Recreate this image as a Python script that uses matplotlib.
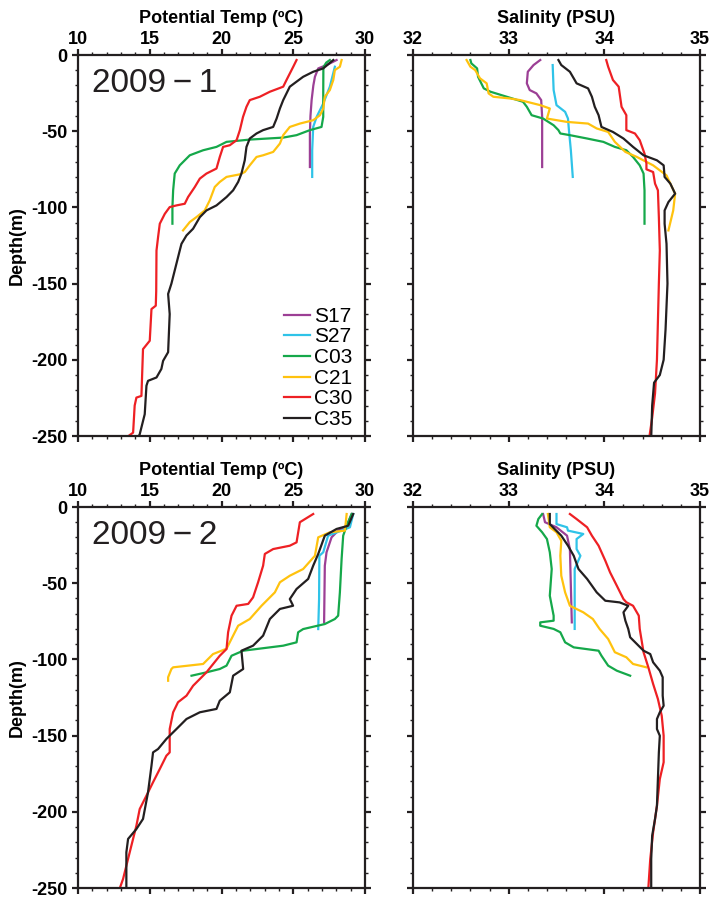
import numpy as np
import matplotlib.pyplot as plt
from matplotlib.ticker import MultipleLocator

plt.rcParams['font.family'] = ['Liberation Sans', 'DejaVu Sans']
plt.rcParams['axes.unicode_minus'] = False

stations = ["S17", "S27", "C03", "C21", "C30", "C35"]
colors = ["#9c3f95", "#2fc3e8", "#15a84a", "#ffc20e", "#ee2024", "#231f20"]

# (value, depth) pairs
# 2009-1 potential temperature
temp1_S17 = [(28.02, -3.3), (27.32, -6.6), (26.74, -8.8), (26.51, -14.3), (26.4, -20),
             (26.28, -29.6), (26.2, -40), (26.16, -51.5), (26.16, -73.5)]
temp1_S27 = [(27.9, -7.7), (27.55, -20.8), (27.09, -31.8), (26.63, -40.6), (26.39, -47.2),
             (26.32, -62.5), (26.32, -80)]
temp1_C03 = [(27.55, -3.3), (27.3, -5), (27.1, -8), (27.09, -25), (27.09, -40.6), (26.97, -47.2),
             (26.16, -49.3), (25.23, -52.6), (24.3, -54.2), (21.97, -55.5), (20.35, -57),
             (19.65, -60.3), (18.72, -62.5), (17.79, -65.8), (17.09, -72.4), (16.74, -77.8),
             (16.63, -88.8), (16.58, -99.8), (16.58, -110.7)]
temp1_C21 = [(28.37, -3.3), (28.25, -7.7), (27.9, -9.9), (27.79, -16.4), (27.55, -23),
             (27.2, -27.4), (27.09, -35.1), (26.86, -39.5), (26.39, -42.8), (25.46, -45),
             (24.76, -47.2), (24.3, -52.6), (24.07, -58.1), (23.6, -63.6), (22.9, -65.8),
             (22.44, -66.9), (21.97, -72.4), (21.62, -76.8), (21.28, -78.3), (20.35, -80),
             (19.88, -83.3), (19.53, -86.6), (19.18, -95.4), (18.83, -102), (18.25, -106.4),
             (17.79, -109.6), (17.32, -115.1)]
temp1_C30 = [(25.23, -3.3), (25.0, -7.7), (24.53, -16.4), (24.3, -20.8), (23.37, -24.1),
             (22.67, -27.4), (21.97, -29.6), (21.74, -34), (21.5, -40.6), (21.28, -49.3),
             (21.05, -55.9), (20.58, -59.2), (20.11, -60.3), (19.88, -66.9), (19.65, -74.5),
             (18.95, -77.8), (18.49, -81.1), (18.14, -86.6), (17.67, -93.2), (17.44, -97.6),
             (16.86, -98.7), (16.39, -99.8), (16.05, -104.2), (15.7, -110.7), (15.58, -119.5),
             (15.47, -128.3), (15.45, -155), (15.42, -164.5), (15.12, -166.7), (15.0, -187.5),
             (14.53, -193), (14.42, -223.7), (14.07, -224.8), (13.95, -230), (13.84, -247.8),
             (13.37, -251)]
temp1_C35 = [(27.79, -3.3), (27.09, -8.8), (26.39, -11.0), (25.69, -14.3), (25.23, -17.5),
             (24.76, -20.8), (24.3, -29.6), (24.07, -35.1), (23.84, -41.7), (23.6, -47.2),
             (22.9, -49.3), (22.44, -51.5), (21.97, -54.8), (21.74, -60.3), (21.62, -69.1),
             (21.39, -77.8), (21.16, -83.3), (20.81, -88.8), (20.35, -93.2), (19.65, -98.7),
             (18.95, -102), (18.49, -106.4), (18.02, -114), (17.56, -118.4), (17.21, -123.9),
             (17.09, -128.3), (16.74, -141.4), (16.51, -150), (16.28, -156.8), (16.39, -170),
             (16.28, -195), (15.93, -200.7), (15.81, -206), (15.47, -211.6), (14.88, -213.8),
             (14.77, -217), (14.65, -235.7), (14.3, -248.9), (14.18, -251)]

# 2009-1 salinity
sal1_S17 = [(33.33, -3.3), (33.26, -6.6), (33.2, -11), (33.19, -18.6), (33.22, -23),
            (33.29, -25.2), (33.34, -29.6), (33.35, -40.6), (33.35, -73.5)]
sal1_S27 = [(33.46, -6.6), (33.47, -23), (33.5, -32.9), (33.59, -37.3), (33.62, -41.7),
            (33.63, -49.3), (33.65, -62.5), (33.67, -80)]
sal1_C03 = [(32.6, -3.3), (32.61, -5.5), (32.67, -8.8), (32.68, -14.3), (32.74, -21.9),
            (32.81, -24.1), (32.98, -27.4), (33.15, -30.7), (33.19, -34), (33.24, -39.5),
            (33.36, -41.7), (33.47, -46.1), (33.52, -49.3), (33.54, -51.5), (33.64, -52.6),
            (33.82, -54.8), (33.99, -57), (34.11, -60.3), (34.23, -62.5), (34.3, -66.9),
            (34.37, -72.4), (34.41, -77.8), (34.42, -88.8), (34.42, -110.7)]
sal1_C21 = [(32.56, -3.3), (32.6, -7.7), (32.65, -9.9), (32.7, -15.3), (32.77, -18.6),
            (32.79, -25.2), (32.84, -27.4), (33.01, -28.5), (33.12, -29.6), (33.33, -32.9),
            (33.43, -35.1), (33.4, -41.7), (33.61, -43.9), (33.83, -45), (33.92, -48.2),
            (34.04, -50.5), (34.11, -57), (34.22, -63.6), (34.34, -66.9), (34.51, -72.4),
            (34.65, -79), (34.69, -84.4), (34.74, -91), (34.72, -102), (34.67, -115.1)]
sal1_C30 = [(34.02, -3.3), (34.04, -7.7), (34.09, -16.4), (34.15, -20.8), (34.16, -25.2),
            (34.18, -34), (34.23, -39.5), (34.23, -49.3), (34.32, -51.5), (34.37, -55.9),
            (34.42, -64.7), (34.44, -71.2), (34.44, -75), (34.51, -76.8), (34.53, -84.4),
            (34.56, -88.8), (34.57, -106.4), (34.58, -128.3), (34.57, -150), (34.56, -175),
            (34.55, -200), (34.53, -222), (34.5, -238), (34.47, -251)]
sal1_C35 = [(33.52, -3.3), (33.55, -6.6), (33.64, -11), (33.69, -16.4), (33.71, -18.6),
            (33.83, -21.9), (33.87, -27.4), (33.9, -34), (33.94, -39.5), (33.97, -47.2),
            (34.09, -50.5), (34.2, -54.8), (34.3, -60.3), (34.41, -65.8), (34.55, -69.1),
            (34.62, -72.4), (34.63, -80), (34.69, -84.4), (34.74, -91), (34.67, -96.5),
            (34.63, -102), (34.63, -110.7), (34.65, -123.9), (34.66, -150), (34.64, -180),
            (34.62, -200), (34.58, -210), (34.52, -215), (34.5, -230), (34.49, -251)]

# 2009-2 potential temperature
temp2_S17 = [(29.07, -4.6), (28.72, -12.3), (28.13, -15.5), (27.67, -19.9), (27.32, -29.7),
             (27.2, -38.5), (27.15, -75.7)]
temp2_S27 = [(29.18, -4.6), (28.95, -13.3), (28.5, -15), (27.43, -18.8), (27.09, -29.7),
             (26.82, -32), (26.8, -60.4), (26.74, -80.1)]
temp2_C03 = [(29.07, -4.6), (28.72, -12.3), (28.48, -18.8), (28.37, -34.1), (28.25, -56),
             (28.13, -71.3), (27.9, -73.5), (27.2, -76.8), (25.69, -80.1), (25.34, -82.2),
             (25.23, -88.8), (24.3, -91), (21.51, -94.3), (20.7, -97.6), (20.35, -104.1),
             (19.88, -106.3), (18.95, -108.5), (17.91, -110.7)]
temp2_C21 = [(28.72, -4.6), (28.6, -15.5), (27.55, -16.6), (26.74, -19.9), (26.51, -32),
             (25.69, -40.7), (24.76, -45.1), (24.07, -49.4), (23.72, -56), (22.79, -64.8),
             (21.97, -73.5), (21.16, -77.9), (20.81, -84.4), (20.35, -93), (19.41, -96.5),
             (18.72, -103), (16.63, -105.2), (16.51, -106.3), (16.28, -111.7), (16.28, -114)]
temp2_C30 = [(26.39, -4.6), (25.46, -10), (25.23, -23.2), (24.76, -25.4), (23.6, -27.6),
             (23.02, -30.8), (22.9, -38.5), (22.55, -49.4), (22.2, -59.3), (21.86, -63.6),
             (21.05, -64.8), (20.7, -71.3), (20.46, -82.2), (20.35, -93.2), (19.88, -97.6),
             (18.95, -108.5), (18.02, -117.3), (17.56, -123.8), (16.97, -128.1), (16.63, -134.7),
             (16.39, -145.7), (16.39, -161), (16.16, -163.2), (15.7, -171.9), (15.23, -180.6),
             (14.77, -189.4), (14.3, -198.2), (14.07, -209.1), (13.72, -222.2), (13.37, -235.4),
             (13.14, -244.1), (12.91, -250.2)]
temp2_C35 = [(29.18, -4.6), (28.83, -12.3), (28.02, -14.4), (27.2, -18.8), (26.74, -30.8),
             (26.39, -38.5), (26.04, -47.2), (25.23, -53.8), (24.76, -60.4), (24.99, -64.8),
             (24.07, -66.9), (23.37, -73.5), (22.9, -84.4), (22.2, -91), (21.39, -94.3),
             (21.51, -106.3), (20.81, -110.7), (20.58, -121.6), (19.88, -127.1), (19.65, -132.5),
             (18.49, -134.7), (17.56, -139.1), (16.86, -145.7), (16.16, -152.2), (15.58, -158.8),
             (15.23, -161), (15.12, -169.8), (14.88, -187.2), (14.53, -204.7), (14.07, -211.3),
             (13.49, -217.8), (13.37, -226.6), (13.37, -250)]

# 2009-2 salinity
sal2_S17 = [(33.36, -4.6), (33.38, -10), (33.5, -13.3), (33.61, -18.8), (33.64, -27.6),
            (33.66, -75.7)]
sal2_S27 = [(33.5, -4.6), (33.5, -11.2), (33.61, -13.3), (33.62, -15.5), (33.78, -17.7),
            (33.71, -21), (33.71, -27.6), (33.75, -32), (33.69, -40.7), (33.69, -80)]
sal2_C03 = [(33.35, -4.6), (33.31, -7.9), (33.29, -12.3), (33.35, -16.6), (33.4, -21),
            (33.43, -29.7), (33.45, -40.7), (33.43, -58.2), (33.45, -64.8), (33.47, -71.3),
            (33.47, -74.6), (33.33, -75.7), (33.33, -77.9), (33.47, -80), (33.54, -82.2),
            (33.59, -88.8), (33.68, -92.1), (33.94, -94.3), (33.97, -97.6), (34.04, -104.1),
            (34.13, -107.4), (34.27, -110.7)]
sal2_C21 = [(33.41, -4.6), (33.43, -13.3), (33.5, -16.6), (33.55, -22.1), (33.54, -32),
            (33.55, -45.1), (33.59, -56), (33.64, -64.8), (33.78, -69.1), (33.88, -73.5),
            (33.95, -80), (34.04, -86.6), (34.11, -95.3), (34.23, -98.6), (34.3, -103),
            (34.44, -105.2)]
sal2_C30 = [(33.64, -4.6), (33.71, -7.9), (33.82, -13.3), (33.87, -18.8), (33.94, -25.4),
            (34.01, -35.2), (34.06, -42.9), (34.13, -51.6), (34.2, -60.4), (34.23, -62.5),
            (34.3, -64.8), (34.36, -71.3), (34.37, -80), (34.41, -95.3), (34.46, -105.2),
            (34.51, -116.1), (34.56, -126), (34.6, -137), (34.62, -150.1), (34.62, -167.5),
            (34.58, -178.5), (34.55, -196), (34.51, -213.5), (34.48, -231), (34.46, -250)]
sal2_C35 = [(33.43, -4.6), (33.43, -11.2), (33.48, -14.4), (33.55, -18.8), (33.62, -25.4),
            (33.68, -32), (33.73, -40.7), (33.82, -47.2), (33.92, -56), (34.01, -61.5),
            (34.16, -62.6), (34.25, -64.8), (34.2, -69.1), (34.22, -74.6), (34.25, -80),
            (34.27, -85.5), (34.34, -89.9), (34.41, -94.3), (34.48, -96.5), (34.51, -101.9),
            (34.58, -107.4), (34.61, -111.7), (34.61, -123.8), (34.62, -130.4), (34.58, -134.7),
            (34.55, -139.1), (34.55, -145.7), (34.58, -150.1), (34.57, -161), (34.56, -178.5),
            (34.55, -196), (34.53, -204.7), (34.5, -215.7), (34.49, -231), (34.49, -250)]

panels = [
    ([temp1_S17, temp1_S27, temp1_C03, temp1_C21, temp1_C30, temp1_C35], "temp", "2009\u2009−\u20091"),
    ([sal1_S17, sal1_S27, sal1_C03, sal1_C21, sal1_C30, sal1_C35], "sal", None),
    ([temp2_S17, temp2_S27, temp2_C03, temp2_C21, temp2_C30, temp2_C35], "temp", "2009\u2009−\u20092"),
    ([sal2_S17, sal2_S27, sal2_C03, sal2_C21, sal2_C30, sal2_C35], "sal", None),
]

W, H = 712, 897
fig = plt.figure(figsize=(W / 100, H / 100), dpi=100)

lefts = [78, 413, 78, 413]
tops = [55, 55, 507, 507]
pw, ph = 287, 381
ink = "#231f20"

for i, (series, kind, year) in enumerate(panels):
    ax = fig.add_axes([lefts[i] / W, 1 - (tops[i] + ph) / H, pw / W, ph / H])
    for s, c, name in zip(series, colors, stations):
        arr = np.array(s)
        ax.plot(arr[:, 0], arr[:, 1], color=c, lw=1.6, label=name)

    if kind == "temp":
        ax.set_xlim(10, 30)
        ax.xaxis.set_major_locator(MultipleLocator(5))
        ax.xaxis.set_minor_locator(MultipleLocator(1))
        ax.set_xlabel("Potential Temp (ºC)", fontsize=13, fontweight="bold", labelpad=6)
        ax.set_ylabel("Depth(m)", fontsize=13, fontweight="bold", labelpad=4)
    else:
        ax.set_xlim(32, 35)
        ax.xaxis.set_major_locator(MultipleLocator(1))
        ax.xaxis.set_minor_locator(MultipleLocator(0.2))
        ax.set_xlabel("Salinity (PSU)", fontsize=13, fontweight="bold", labelpad=6)
    ax.set_ylim(-250, 0)
    ax.yaxis.set_major_locator(MultipleLocator(50))
    ax.yaxis.set_minor_locator(MultipleLocator(10))
    ax.xaxis.set_label_position("top")

    ax.tick_params(which="both", direction="out", top=True, bottom=True, left=True, right=True,
                   labeltop=True, labelbottom=False, labelleft=(kind == "temp"),
                   labelright=False, color=ink)
    ax.tick_params(which="major", length=4.5, width=1.6, labelsize=13, pad=3)
    ax.tick_params(axis="x", which="major", pad=0.5)
    ax.tick_params(which="minor", length=2.5, width=1.0)
    for lab in ax.get_xticklabels() + ax.get_yticklabels():
        lab.set_fontweight("bold")
    for sp in ax.spines.values():
        sp.set_linewidth(1.6)
        sp.set_color(ink)

    if year:
        ax.text(0.05, 0.966, year, transform=ax.transAxes, fontsize=24,
                ha="left", va="top", color=ink)
    if i == 0:
        ax.legend(loc="lower right", bbox_to_anchor=(0.955, 0.018), frameon=False,
                  fontsize=15, handlelength=1.25, handletextpad=0.2, labelspacing=0.08,
                  borderpad=0, borderaxespad=0)

fig.savefig("out.png", dpi=100)
